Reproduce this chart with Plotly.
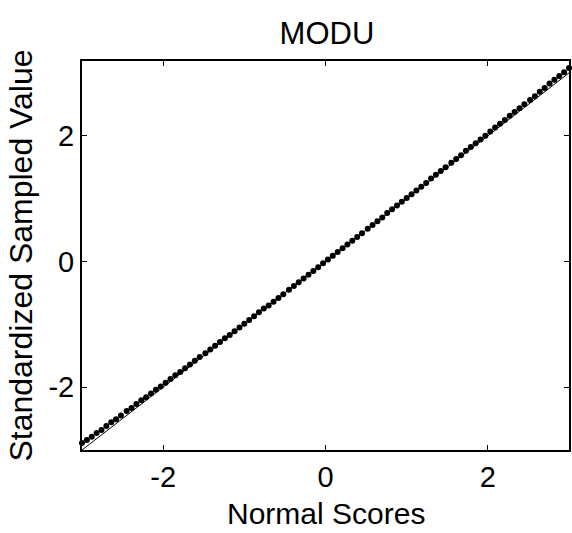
import plotly.graph_objects as go

title_text = "MODU"
x_title = "Normal Scores"
y_title = "Standardized Sampled Value"

normal_scores = [
    -3.00, -2.94, -2.88, -2.82, -2.76, -2.70, -2.64, -2.58, -2.52, -2.45,
    -2.39, -2.33, -2.27, -2.21, -2.15, -2.09, -2.03, -1.97, -1.91, -1.85,
    -1.79, -1.73, -1.67, -1.61, -1.55, -1.48, -1.42, -1.36, -1.30, -1.24,
    -1.18, -1.12, -1.06, -1.00, -0.94, -0.88, -0.82, -0.76, -0.70, -0.64,
    -0.58, -0.52, -0.45, -0.39, -0.33, -0.27, -0.21, -0.15, -0.09, -0.03,
    0.03, 0.09, 0.15, 0.21, 0.27, 0.33, 0.39, 0.45, 0.52, 0.58,
    0.64, 0.70, 0.76, 0.82, 0.88, 0.94, 1.00, 1.06, 1.12, 1.18,
    1.24, 1.30, 1.36, 1.42, 1.48, 1.55, 1.61, 1.67, 1.73, 1.79,
    1.85, 1.91, 1.97, 2.03, 2.09, 2.15, 2.21, 2.27, 2.33, 2.39,
    2.45, 2.52, 2.58, 2.64, 2.70, 2.76, 2.82, 2.88, 2.94, 3.00,
]

sampled_values = [
    -2.89, -2.84, -2.79, -2.73, -2.68, -2.62, -2.56, -2.51, -2.45, -2.38,
    -2.33, -2.27, -2.21, -2.16, -2.10, -2.04, -1.99, -1.93, -1.87, -1.81,
    -1.76, -1.70, -1.64, -1.58, -1.52, -1.46, -1.40, -1.34, -1.28, -1.22,
    -1.17, -1.11, -1.05, -0.99, -0.93, -0.87, -0.81, -0.75, -0.70, -0.64,
    -0.58, -0.52, -0.45, -0.39, -0.33, -0.27, -0.21, -0.15, -0.09, -0.03,
    0.03, 0.09, 0.15, 0.21, 0.27, 0.33, 0.39, 0.45, 0.52, 0.58,
    0.64, 0.70, 0.77, 0.83, 0.89, 0.95, 1.01, 1.07, 1.13, 1.19,
    1.25, 1.32, 1.38, 1.44, 1.50, 1.57, 1.63, 1.69, 1.76, 1.82,
    1.88, 1.94, 2.00, 2.07, 2.13, 2.19, 2.25, 2.32, 2.38, 2.44,
    2.50, 2.57, 2.63, 2.70, 2.76, 2.83, 2.89, 2.95, 3.01, 3.08,
]

ref_x = [-3, 3]
ref_y = [-3, 3]

tick_vals = [-2, 0, 2]
tick_text = ["-2", "0", "2"]

FONT = "Liberation Sans, Arial, sans-serif"

fig = go.Figure()
fig.add_trace(go.Scatter(
    x=ref_x, y=ref_y, mode="lines",
    line=dict(color="black", width=1), showlegend=False, hoverinfo="skip",
))
fig.add_trace(go.Scatter(
    x=normal_scores, y=sampled_values, mode="markers",
    marker=dict(color="black", size=6, line=dict(width=0)),
    showlegend=False, cliponaxis=False,
))

axis_common = dict(
    showgrid=False, zeroline=False, showline=True, linecolor="black",
    linewidth=2, mirror="ticks", ticks="inside", ticklen=5, tickwidth=1,
    tickcolor="black", tickvals=tick_vals, ticktext=tick_text,
    tickfont=dict(family=FONT, size=29, color="black"),
)

fig.update_layout(
    width=572, height=533,
    margin=dict(l=82, r=1, t=61, b=83),
    paper_bgcolor="white", plot_bgcolor="white",
    title=dict(text=title_text, x=0.5716, xanchor="center", y=0.938, yanchor="middle",
               font=dict(family=FONT, size=31, color="black")),
    xaxis=dict(range=[-3, 3], ticklabelstandoff=0, **axis_common),
    yaxis=dict(range=[-3, 3.19], title=dict(text=y_title, standoff=6,
               font=dict(family=FONT, size=32, color="black")), **axis_common),
    annotations=[dict(
        text=x_title, xref="paper", yref="paper", x=0.5, y=-0.162,
        xanchor="center", yanchor="middle", showarrow=False,
        font=dict(family=FONT, size=30, color="black"),
    )],
)

fig.write_html("out.html")
